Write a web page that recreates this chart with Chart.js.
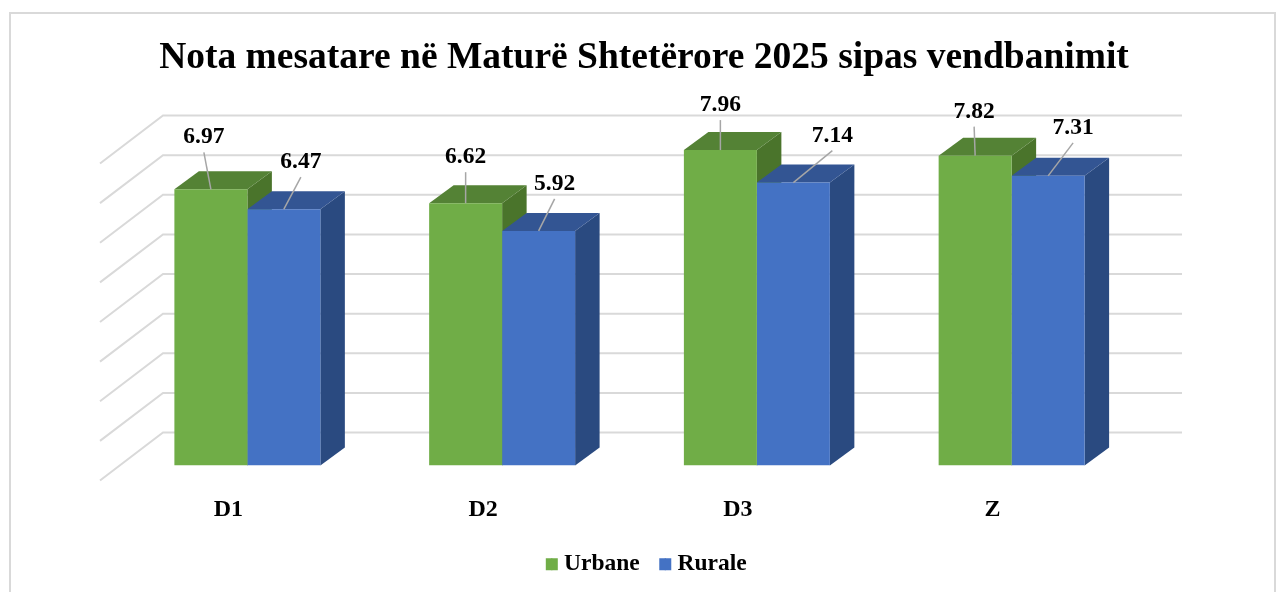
<!DOCTYPE html>
<html>
<head>
<meta charset="utf-8">
<title>Nota mesatare</title>
<script src="https://cdn.jsdelivr.net/npm/chart.js@4/dist/chart.umd.min.js"></script>
<style>
html, body { margin: 0; padding: 0; background: #fff; overflow: hidden; }
#frame { position: absolute; left: 9px; top: 12px; width: 1267px; height: 600px; border: 2px solid #d9d9d9; box-sizing: border-box; }
#wrap { position: absolute; left: 0; top: 0; width: 1276px; height: 592px; }
</style>
</head>
<body>
<div id="frame"></div>
<div id="wrap"><canvas id="chart" width="1276" height="592"></canvas></div>
<script>
var categories = ["D1", "D2", "D3", "Z"];
var urbane = [6.97, 6.62, 7.96, 7.82];
var rurale = [6.47, 5.92, 7.14, 7.31];
var yTicks = [0, 1, 2, 3, 4, 5, 6, 7, 8];

var FONT = '"Liberation Serif", "Times New Roman", serif';
var GREEN = "#70ad47", GREEN_TOP = "#548235", GREEN_SIDE = "#4a742b";
var BLUE = "#4472c4", BLUE_TOP = "#335593", BLUE_SIDE = "#2a4a80";

// depth of a bar, and where the back wall / front floor edge sit relative to the bars
var depth = { x: 24.5, y: 18 };
var wall = { backX: 43, backY: 33, frontX: -20, frontY: -15 };

// leader line end, relative to the middle of the bar top [dx, dy]
var leaderEnds = [
    [[-7, -37], [17, -32]],
    [[0, -31], [16, -32]],
    [[0, -30], [39, -32]],
    [[-1, -29], [25, -33]]
];

// legend nudges, chart.js centres it slightly off from the original
var legendShift = { x: 5, y: -6 };

var bars3d = {
    id: "bars3d",
    beforeDraw: function(chart) {
        var l = chart.legend;
        l.left += legendShift.x;
        l.right += legendShift.x;
        l.top += legendShift.y;
        l.bottom += legendShift.y;
    },
    beforeDatasetsDraw: function(chart) {
        var c = chart.ctx, y = chart.scales.y, a = chart.chartArea;
        c.save();
        c.strokeStyle = "#d9d9d9";
        c.lineWidth = 2;
        yTicks.forEach(function(t) {
            var py = y.getPixelForValue(t);
            c.beginPath();
            c.moveTo(a.left + wall.frontX, py - wall.frontY);
            c.lineTo(a.left + wall.backX, py - wall.backY);
            c.lineTo(a.right + wall.backX, py - wall.backY);
            c.stroke();
        });
        c.restore();
        // side and top faces go under the front faces
        [0, 1].forEach(function(d) {
            chart.getDatasetMeta(d).data.forEach(function(b) {
                var w = b.width / 2, l = b.x - w, r = b.x + w;
                c.fillStyle = d ? BLUE_SIDE : GREEN_SIDE;
                c.beginPath();
                c.moveTo(r, b.y);
                c.lineTo(r + depth.x, b.y - depth.y);
                c.lineTo(r + depth.x, b.base - depth.y);
                c.lineTo(r, b.base);
                c.closePath();
                c.fill();
                c.fillStyle = d ? BLUE_TOP : GREEN_TOP;
                c.beginPath();
                c.moveTo(l, b.y);
                c.lineTo(l + depth.x, b.y - depth.y);
                c.lineTo(r + depth.x, b.y - depth.y);
                c.lineTo(r, b.y);
                c.closePath();
                c.fill();
            });
        });
    },
    afterDatasetsDraw: function(chart) {
        var c = chart.ctx;
        c.save();
        c.font = "bold 23.5px " + FONT;
        c.textAlign = "center";
        c.textBaseline = "alphabetic";
        [0, 1].forEach(function(d) {
            var values = chart.data.datasets[d].data;
            chart.getDatasetMeta(d).data.forEach(function(b, i) {
                var end = leaderEnds[i][d];
                c.strokeStyle = "#a6a6a6";
                c.lineWidth = 1.5;
                c.beginPath();
                c.moveTo(b.x, b.y);
                c.lineTo(b.x + end[0], b.y + end[1]);
                c.stroke();
                c.fillStyle = "#000";
                c.fillText(values[i].toFixed(2), b.x + end[0], b.y + end[1] - 9);
            });
        });
        c.restore();
    },
    afterDraw: function(chart) {
        // chart.js has a fixed gap between box and text, the original is tighter
        var c = chart.ctx, l = chart.legend;
        c.save();
        l.legendHitBoxes.forEach(function(h, i) {
            c.fillStyle = chart.data.datasets[i].backgroundColor;
            c.fillRect(h.left + legendShift.x - 5.5, h.top + legendShift.y + h.height / 2 - 6, 12, 12);
        });
        c.restore();
    }
};

new Chart(document.getElementById("chart"), {
    type: "bar",
    data: {
        labels: categories,
        datasets: [
            { label: "Urbane", data: urbane, backgroundColor: GREEN, categoryPercentage: 0.573, barPercentage: 1 },
            { label: "Rurale", data: rurale, backgroundColor: BLUE, categoryPercentage: 0.573, barPercentage: 1 }
        ]
    },
    plugins: [bars3d],
    options: {
        responsive: false,
        animation: false,
        layout: { padding: { left: 12, right: 0, top: 0, bottom: 0 } },
        plugins: {
            title: {
                display: true,
                text: "Nota mesatare në Maturë Shtetërore 2025 sipas vendbanimit",
                color: "#000",
                font: { family: FONT, size: 37.5, weight: "bold" },
                padding: { top: 36, bottom: 67.5 }
            },
            legend: {
                position: "bottom",
                labels: {
                    color: "#000",
                    font: { family: FONT, size: 23.5, weight: "bold" },
                    boxWidth: 1,
                    boxHeight: 12,
                    padding: 25
                }
            },
            tooltip: { enabled: false }
        },
        scales: {
            x: {
                grid: { display: false },
                border: { display: false },
                afterFit: function(s) { s.height = 68; },
                ticks: { color: "#000", font: { family: FONT, size: 24, weight: "bold" }, labelOffset: -19, padding: 22 }
            },
            y: {
                min: 0,
                max: 8,
                grid: { display: false },
                border: { display: false },
                afterFit: function(s) { s.width = 108; },
                ticks: { display: false, stepSize: 1 }
            },
            y2: {
                type: "linear",
                position: "right",
                grid: { display: false },
                border: { display: false },
                afterFit: function(s) { s.width = 137; },
                ticks: { display: false }
            }
        }
    }
});
</script>
</body>
</html>
